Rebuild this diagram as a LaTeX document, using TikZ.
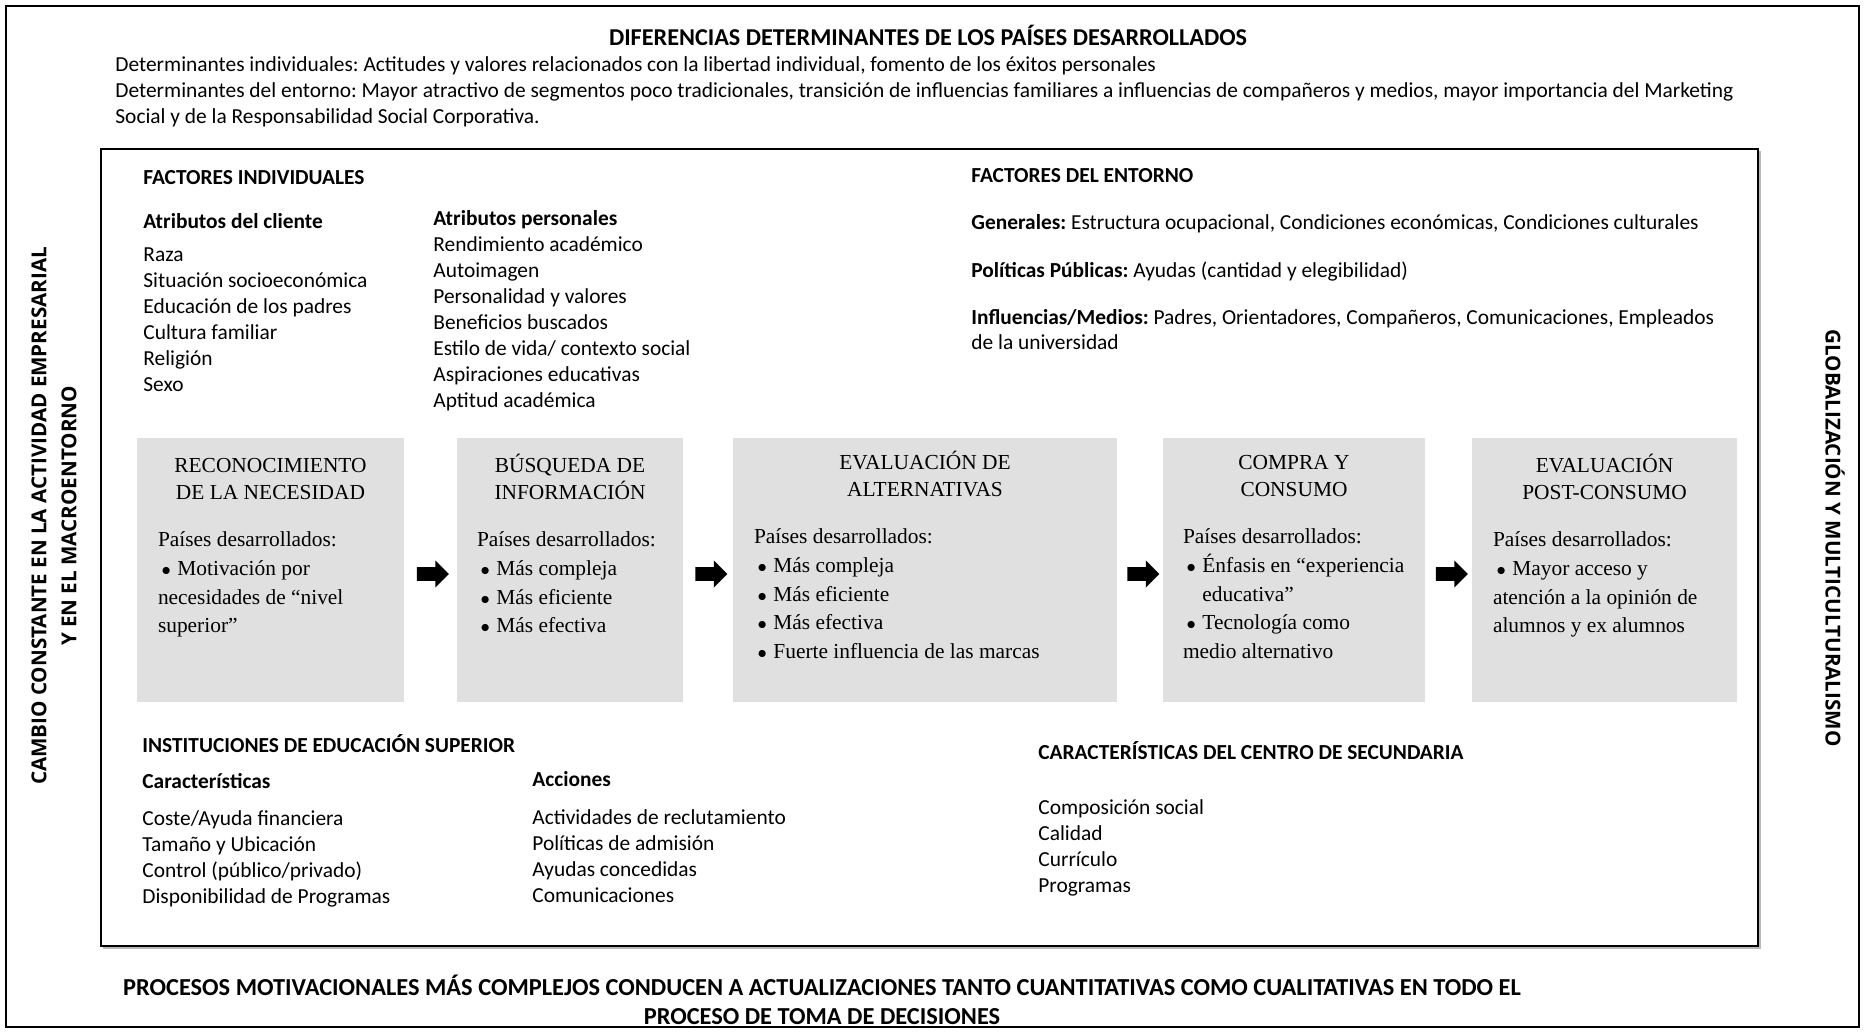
\documentclass[tikz,border=0pt]{standalone}
\usepackage{fontspec}
\setmainfont{Carlito}
\newfontfamily\tms{Liberation Serif}
\newfontfamily\osb{Open Sans}
\usetikzlibrary{shapes.arrows,calc}
\definecolor{boxgrey}{RGB}{224,224,224}
\newcommand\bitem[1]{\par\hangindent=9.7pt\hangafter=1\noindent\makebox[9.7pt][l]{\hspace{1.8pt}{\fontsize{9}{9}\selectfont$\bullet$}}#1}
\newcommand\topstrut{\spaceskip=\fontdimen2\font\relax\xspaceskip=\fontdimen2\font\relax\rule{0pt}{12pt}}
\tikzset{
  cal/.style={anchor=north west, inner sep=0pt, align=left, text width=420pt,
    font=\fontsize{10.7}{13}\selectfont, execute at begin node=\topstrut},
  calb/.style={cal, font=\bfseries\fontsize{10.7}{13}\selectfont},
  stage/.style={fill=boxgrey, draw=none, inner sep=0pt, minimum height=132pt},
  stagehead/.style={anchor=north, inner sep=0pt, align=center, text width=120pt,
    font=\tms\fontsize{10.7}{13.7}\selectfont, execute at begin node=\topstrut},
  stagebody/.style={anchor=north west, inner sep=0pt, align=left,
    font=\tms\fontsize{10.7}{14.4}\selectfont, execute at begin node=\topstrut},
  blockarrow/.style={single arrow, fill=black, draw=none, inner sep=3.2pt,
    minimum height=16pt, single arrow head extend=3.4pt},
  sidelabel/.style={inner sep=0pt, align=center, font=\osb\bfseries\fontsize{10.3}{15}\selectfont}
}
\begin{document}
\frenchspacing
\begin{tikzpicture}[x=0.5pt,y=-0.5pt]
\useasboundingbox (0,0) rectangle (1865,1033);
% frames
\draw[line width=1.1pt] (6,6) rectangle (1859,1027);
\draw[gray!55, line width=1pt] (103,948) -- (1760,948) -- (1760,151);
\draw[line width=0.6pt] (101,149) rectangle (1758,946);

% header
\node[calb, anchor=north, align=center, text width=500pt, font=\bfseries\fontsize{12.1}{13}\selectfont] (title) at (928,21.4) {DIFERENCIAS DETERMINANTES DE LOS PAÍSES DESARROLLADOS};
\node[cal, text width=900pt] (det) at (115,47.5) {Determinantes individuales: Actitudes y valores relacionados con la libertad individual, fomento de los éxitos personales\\
Determinantes del entorno: Mayor atractivo de segmentos poco tradicionales, transición de influencias familiares a influencias de compañeros y medios, mayor importancia del Marketing\\
Social y de la Responsabilidad Social Corporativa.};

% factores individuales
\node[calb] (fi) at (143,160) {FACTORES INDIVIDUALES};
\node[calb] (ac) at (143,203.8) {Atributos del cliente};
\node[cal] (acl) at (143,236.8) {Raza\\Situación socioeconómica\\Educación de los padres\\Cultura familiar\\Religión\\Sexo};
\node[cal] (ap) at (433,200.8) {\textbf{Atributos personales}\\Rendimiento académico\\Autoimagen\\Personalidad y valores\\Beneficios buscados\\Estilo de vida/ contexto social\\Aspiraciones educativas\\Aptitud académica};

% factores del entorno
\node[calb] (fe) at (971,157.9) {FACTORES DEL ENTORNO};
\node[cal] (gen) at (971,204.7) {\textbf{Generales:} Estructura ocupacional, Condiciones económicas, Condiciones culturales};
\node[cal] (pol) at (971,253.5) {\textbf{Políticas Públicas:} Ayudas (cantidad y elegibilidad)};
\node[cal, font=\fontsize{10.7}{12.5}\selectfont] (inf) at (971,300.2) {\textbf{Influencias/Medios:} Padres, Orientadores, Compañeros, Comunicaciones, Empleados\\de la universidad};

% stages
\node[stage, minimum width=133.5pt] (b1) at (270.5,570) {};
\node[stage, minimum width=113pt] (b2) at (570,570) {};
\node[stage, minimum width=192pt] (b3) at (925,570) {};
\node[stage, minimum width=131pt] (b4) at (1294,570) {};
\node[stage, minimum width=132.5pt] (b5) at (1604.5,570) {};

\node[stagehead] (h1) at ($(b1.north)+(0,10.1)$) {RECONOCIMIENTO\\DE LA NECESIDAD};
\node[stagehead] (h2) at ($(b2.north)+(0,10.1)$) {BÚSQUEDA DE\\INFORMACIÓN};
\node[stagehead] (h3) at ($(b3.north)+(0,7.1)$) {EVALUACIÓN DE\\ALTERNATIVAS};
\node[stagehead] (h4) at ($(b4.north)+(0,7.1)$) {COMPRA Y\\CONSUMO};
\node[stagehead] (h5) at ($(b5.north)+(0,10.1)$) {EVALUACIÓN\\POST-CONSUMO};

\node[stagebody, text width=122pt] (t1) at ($(b1.north west)+(21,84.5)$) {Países desarrollados:
\bitem{Motivación por\newline necesidades de “nivel\newline superior”}};
\node[stagebody, text width=102pt] (t2) at ($(b2.north west)+(20,84.5)$) {Países desarrollados:
\bitem{Más compleja}
\bitem{Más eficiente}
\bitem{Más efectiva}};
\node[stagebody, text width=181pt] (t3) at ($(b3.north west)+(21,81.5)$) {Países desarrollados:
\bitem{Más compleja}
\bitem{Más eficiente}
\bitem{Más efectiva}
\bitem{Fuerte influencia de las marcas}};
\node[stagebody, text width=121pt] (t4) at ($(b4.north west)+(20,81.5)$) {Países desarrollados:
\bitem{Énfasis en “experiencia\newline educativa”}
\bitem{Tecnología como\newline medio alternativo}};
\node[stagebody, text width=122pt] (t5) at ($(b5.north west)+(21,84.5)$) {Países desarrollados:
\bitem{Mayor acceso y\newline atención a la opinión de\newline alumnos y ex alumnos}};

% arrows between stages
\node[blockarrow] (a1) at ($($(b1.east)!0.5!(b2.west)$)+(-1,4)$) {};
\node[blockarrow] (a2) at ($($(b2.east)!0.5!(b3.west)$)+(0,4)$) {};
\node[blockarrow] (a3) at ($($(b3.east)!0.5!(b4.west)$)+(0,4)$) {};
\node[blockarrow] (a4) at ($($(b4.east)!0.5!(b5.west)$)+(0,4)$) {};

% instituciones
\node[calb] (ies) at (142,728.1) {INSTITUCIONES DE EDUCACIÓN SUPERIOR};
\node[calb] (car) at (142,764.5) {Características};
\node[cal] (carl) at (142,800.6) {Coste/Ayuda financiera\\Tamaño y Ubicación\\Control (público/privado)\\Disponibilidad de Programas};
\node[calb] (acc) at (532,761.9) {Acciones};
\node[cal] (accl) at (532,800.4) {Actividades de reclutamiento\\Políticas de admisión\\Ayudas concedidas\\Comunicaciones};

% secundaria
\node[calb] (sec) at (1038,734.9) {CARACTERÍSTICAS DEL CENTRO DE SECUNDARIA};
\node[cal] (secl) at (1038,790.4) {Composición social\\Calidad\\Currículo\\Programas};

% side labels
\node[sidelabel, rotate=90] (left) at (54,516) {CAMBIO CONSTANTE EN LA ACTIVIDAD EMPRESARIAL\\Y EN EL MACROENTORNO};
\node[sidelabel, rotate=-90] (right) at (1835,538) {GLOBALIZACIÓN Y MULTICULTURALISMO};

% bottom
\node[calb, anchor=north, align=center, text width=760pt, font=\bfseries\fontsize{12.2}{14.8}\selectfont] (bot) at (822,970.6) {PROCESOS MOTIVACIONALES MÁS COMPLEJOS CONDUCEN A ACTUALIZACIONES TANTO CUANTITATIVAS COMO CUALITATIVAS EN TODO EL\\PROCESO DE TOMA DE DECISIONES};
\end{tikzpicture}
\end{document}
